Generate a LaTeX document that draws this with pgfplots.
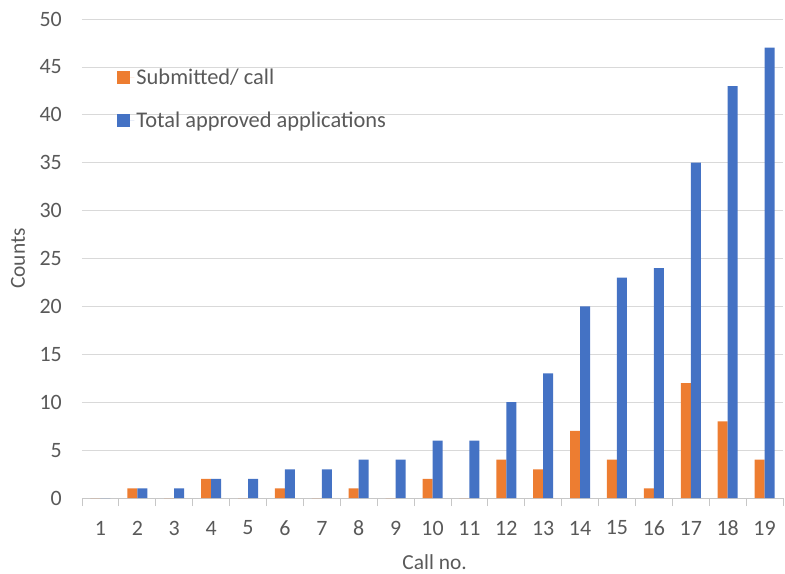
\documentclass[border=0pt]{standalone}
\usepackage{pgfplots}
\pgfplotsset{compat=1.18}
\usepackage{fontspec}
\setmainfont{Carlito}
\definecolor{corange}{HTML}{ED7D31}
\definecolor{cblue}{HTML}{4472C4}
\definecolor{cgrid}{HTML}{D9D9D9}
\definecolor{ctext}{HTML}{595959}
\begin{document}
\begin{tikzpicture}
\useasboundingbox (-82bp,-76bp) rectangle (703bp,498bp);
\begin{axis}[
  at={(0,0)}, anchor=south west,
  scale only axis, width=701bp, height=479bp,
  ybar=0pt, bar width=10bp,
  xmin=0.5, xmax=19.5, ymin=0, ymax=50,
  xtick={1,...,19},
  minor xtick={0.5,1.5,...,19.5},
  ytick={0,5,...,50},
  major tick length=0pt,
  minor tick length=8bp,
  tick align=outside,
  minor tick style={cgrid!80!gray, line width=0.8pt},
  axis lines*=left,
  y axis line style={draw=none},
  x axis line style={draw=cgrid!80!gray, line width=0.8pt, -},
  ymajorgrids, grid style={cgrid, line width=0.8pt},
  /pgf/number format/assume math mode=true,
  tick label style={font=\fontsize{22}{26}\selectfont, text=ctext, inner sep=0pt},
  yticklabel style={anchor=east, xshift=-20bp},
  xticklabel style={anchor=center, yshift=-30bp},
  xlabel={Call no.}, ylabel={Counts},
  label style={font=\fontsize{21.5}{25}\selectfont, text=ctext, inner sep=0pt},
  xlabel style={at={(axis description cs:0.503,-0.1336)}, anchor=center},
  ylabel style={at={(axis description cs:-0.0913,0.5)}, anchor=center, rotate=0},
  legend style={at={(0.046,0.905)}, anchor=north west, draw=none, fill=none,
    font=\fontsize{22.5}{27}\selectfont, text=ctext, row sep=22bp,
    legend cell align=left},
  legend image code/.code={\fill[#1] (0bp,-6.5bp) rectangle (13bp,6.5bp);
    \path (0bp,0bp) -- (17bp,0bp);},
]
\addplot[fill=corange, draw=none] coordinates {
(1,0) (2,1) (3,0) (4,2) (5,0) (6,1) (7,0) (8,1) (9,0) (10,2)
(11,0) (12,4) (13,3) (14,7) (15,4) (16,1) (17,12) (18,8) (19,4)};
\addplot[fill=cblue, draw=none] coordinates {
(1,0) (2,1) (3,1) (4,2) (5,2) (6,3) (7,3) (8,4) (9,4) (10,6)
(11,6) (12,10) (13,13) (14,20) (15,23) (16,24) (17,35) (18,43) (19,47)};
\legend{Submitted/ call, Total approved applications}
\end{axis}
\end{tikzpicture}
\end{document}
